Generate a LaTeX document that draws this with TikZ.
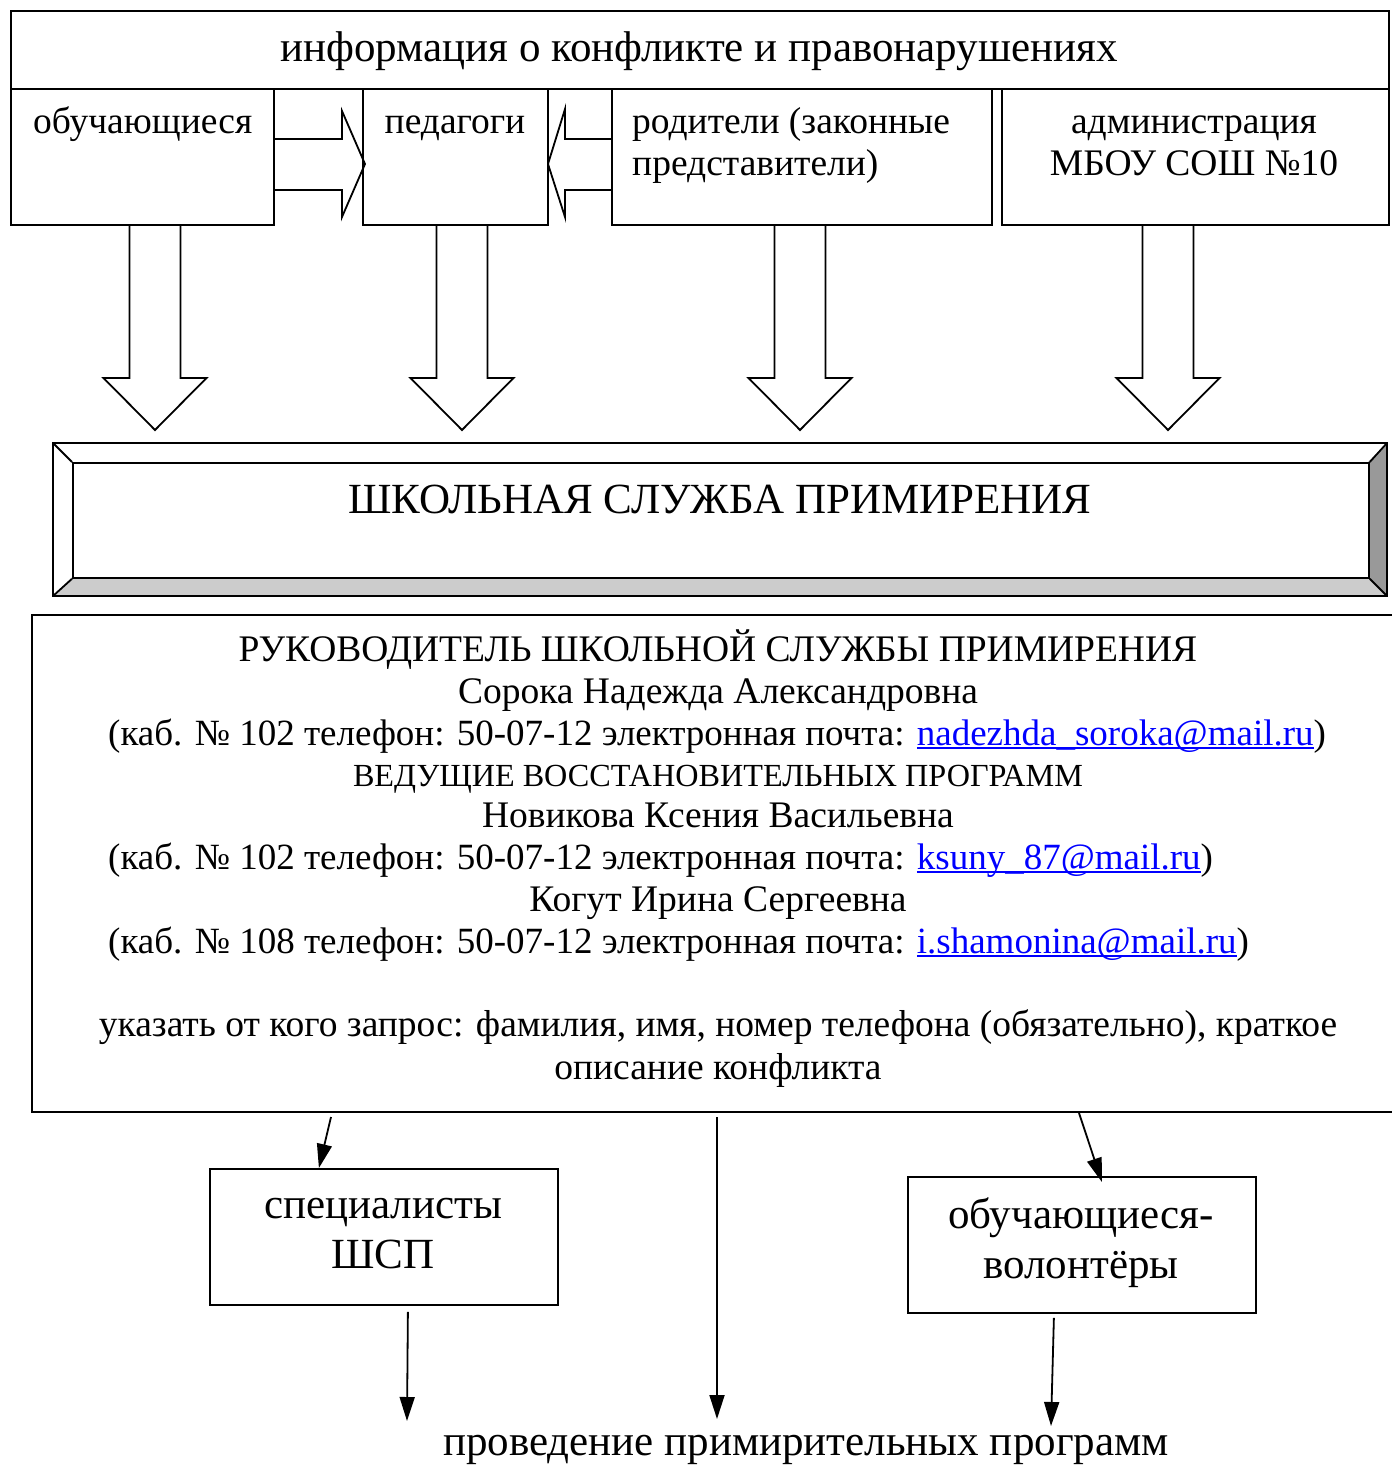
\documentclass[tikz,border=0pt]{standalone}
\usepackage{fontspec}
\setmainfont{Liberation Serif}
\usetikzlibrary{arrows.meta,positioning}

\newsavebox\mailbox
\newcommand\mailto[1]{\textcolor{blue}{\sbox\mailbox{#1}%
  \rlap{\rule[-4pt]{\wd\mailbox}{1.6pt}}\usebox\mailbox}}
% block arrow pointing down, centre x given
\newcommand\dnblock[1]{%
  \draw[blk] (#1-25.5,224) -- (#1-25.5,378) -- (#1-51.5,378) -- (#1,430)
    -- (#1+51.5,378) -- (#1+25.5,378) -- (#1+25.5,224);}

\begin{document}
\begin{tikzpicture}[x=1pt,y=-1pt,
    box/.style={draw,line width=1.8pt,anchor=north west,inner sep=0pt},
    lbl/.style={inner sep=0pt,anchor=base,font=\fontsize{37.5}{42}\selectfont},
    big/.style={lbl,font=\fontsize{43}{50}\selectfont},
    body/.style={lbl,font=\fontsize{37.5}{42}\selectfont},
    cab/.style={body,anchor=base west,font=\fontsize{37}{42}\selectfont},
    blk/.style={line width=1.8pt,line join=miter},
    con/.style={line width=1.8pt,-{Triangle[length=24pt,width=15pt]}}]
    \useasboundingbox (0,0) rectangle (1392,1465);

    % sources of information
    \node[box,minimum width=1378pt,minimum height=78pt] (info) at (10,10) {};
    \node[box,minimum width=263pt,minimum height=136pt] (pupils) at (10,88) {};
    \node[box,minimum width=185pt,minimum height=136pt] (teach) at (362,88) {};
    \node[box,minimum width=380pt,minimum height=136pt] (parents) at (611,88) {};
    \node[box,minimum width=387pt,minimum height=136pt] (admin) at (1001,88) {};

    \node[big] (infot) at (699,61) {информация о конфликте и правонарушениях};
    \node[lbl,anchor=base west] (pupilst) at (33,133) {обучающиеся};
    \node[lbl] (teacht) at (455,133) {педагоги};
    \node[lbl,anchor=base west] (parentst1) at (632,133) {родители (законные};
    \node[lbl,anchor=base west] (parentst2) at (632,175) {представители)};
    \node[lbl] (admint1) at (1194,133) {администрация};
    \node[lbl] (admint2) at (1194,175) {МБОУ СОШ №10};

    % side block arrows
    \draw[blk] (pupils.east |- 0,139) -- (342,139) -- (342,111) -- (365,164)
        -- (342,217) -- (342,190) -- (pupils.east |- 0,190);
    \draw[blk] (parents.west |- 0,139) -- (565,139) -- (565,109) -- (548,164)
        -- (565,217) -- (565,190) -- (parents.west |- 0,190);

    % down block arrows
    \dnblock{155}
    \dnblock{462}
    \dnblock{800}
    \dnblock{1168}

    % school service (bevel box)
    \fill[black!20] (53,596) -- (72,577) -- (1368,577) -- (1387,596) -- cycle;
    \fill[black!40] (1387,443) -- (1368,462) -- (1368,577) -- (1387,596) -- cycle;
    \draw[blk] (53,443) rectangle (1387,596);
    \node[box,minimum width=1296pt,minimum height=115pt] (ssp) at (72,462) {};
    \draw[blk] (53,443) -- (ssp.north west) (1387,443) -- (ssp.north east)
        (53,596) -- (ssp.south west) (1387,596) -- (ssp.south east);
    \node[big] (sspt) at (720,513) {ШКОЛЬНАЯ СЛУЖБА ПРИМИРЕНИЯ};

    % contacts
    \node[box,minimum width=1380pt,minimum height=497pt] (head) at (31,614) {};
    \node[body] (l1) at (718,661) {РУКОВОДИТЕЛЬ ШКОЛЬНОЙ СЛУЖБЫ ПРИМИРЕНИЯ};
    \node[body] (l2) at (718,703) {Сорока Надежда Александровна};
    \node[cab] (l3) at (108,745) {(каб. № 102 телефон: 50-07-12 электронная почта: \mailto{nadezhda\_soroka@mail.ru})};
    \node[body,font=\fontsize{32.2}{42}\selectfont] (l4) at (718,786) {ВЕДУЩИЕ ВОССТАНОВИТЕЛЬНЫХ ПРОГРАММ};
    \node[body] (l5) at (718,827) {Новикова Ксения Васильевна};
    \node[cab] (l6) at (108,869) {(каб. № 102 телефон: 50-07-12 электронная почта: \mailto{ksuny\_87@mail.ru})};
    \node[body] (l7) at (718,911) {Когут Ирина Сергеевна};
    \node[cab] (l8) at (108,953) {(каб. № 108 телефон: 50-07-12 электронная почта: \mailto{i.shamonina@mail.ru})};
    \node[body] (l9) at (718,1036) {указать от кого запрос: фамилия, имя, номер телефона (обязательно), краткое};
    \node[body] (l10) at (718,1079) {описание конфликта};

    % performers
    \node[box,minimum width=348pt,minimum height=136pt] (spec) at (209,1168) {};
    \node[box,minimum width=348pt,minimum height=136pt] (vol) at (907,1176) {};
    \node[big] (spect1) at (383,1218) {специалисты};
    \node[big] (spect2) at (383,1268) {ШСП};
    \node[big] (volt1) at (1081,1228) {обучающиеся-};
    \node[big] (volt2) at (1081,1278) {волонтёры};

    \node[big] (result) at (806,1455) {проведение примирительных программ};
    \coordinate (r1) at (407,1421);
    \coordinate (r2) at (717,1419);
    \coordinate (r3) at (1051,1426);

    \draw[con] (331,1117) -- ([xshift=-65pt]spec.north);
    \draw[con] (1079,1113) -- ([xshift=20pt,yshift=-6pt]vol.north);
    \draw[con] (717,1117) -- (r2);
    \draw[con] ([xshift=24pt,yshift=-6pt]spec.south) -- (r1);
    \draw[con] ([xshift=-28pt,yshift=-4pt]vol.south) -- (r3);
\end{tikzpicture}
\end{document}
